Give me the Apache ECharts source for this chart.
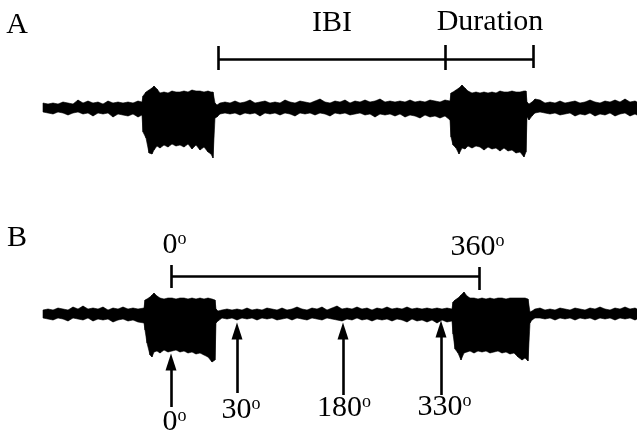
<!DOCTYPE html>
<html>
<head>
<meta charset="utf-8">
<script src="https://cdn.jsdelivr.net/npm/echarts@6/dist/echarts.min.js"></script>
<style>
  html, body { margin: 0; padding: 0; background: #fff; }
  #chart { width: 637px; height: 436px; }
</style>
</head>
<body>
<div id="chart"></div>
<script>
// recording envelopes: [time (s), upper, lower] in arbitrary units
const traceA_base1 = [
  [4.3, 0.5, -0.4], [4.8, 0.4, -0.5], [5.3, 0.5, -0.6], [5.8, 0.4, -0.4], [6.3, 0.6, -0.5],
  [6.8, 0.5, -0.7], [7.3, 0.4, -0.5], [7.8, 0.8, -0.4], [8.3, 0.5, -0.6], [8.8, 0.7, -0.5],
  [9.3, 0.5, -0.8], [9.8, 0.6, -0.5], [10.3, 0.4, -0.6], [10.8, 0.7, -0.5], [11.3, 0.5, -0.9],
  [11.8, 0.6, -0.6], [12.3, 0.5, -0.7], [12.8, 0.6, -0.8], [13.3, 0.5, -0.6], [13.8, 0.7, -0.9],
  [14.2, 0.6, -0.7]
];
const traceA_burst1 = [
  [14.3, 1.2, -2.4], [14.6, 1.6, -3.0], [14.9, 1.8, -4.5], [15.2, 2.0, -4.6], [15.4, 2.2, -4.2],
  [15.7, 1.9, -3.8], [16.0, 1.5, -4.0], [16.4, 1.6, -3.7], [16.8, 1.5, -3.9], [17.2, 1.7, -3.6],
  [17.6, 1.6, -3.8], [18.0, 1.6, -3.7], [18.4, 1.7, -3.9], [18.8, 1.6, -3.6], [19.2, 1.8, -4.1],
  [19.6, 1.7, -3.7], [20.0, 1.7, -4.2], [20.4, 1.6, -3.9], [20.8, 1.7, -4.4], [21.1, 1.6, -4.6],
  [21.3, 1.6, -5.0]
];
const traceA_base2 = [
  [21.5, 0.5, -1.0], [21.7, 0.3, -0.9], [22.0, 0.5, -0.6], [22.5, 0.6, -0.5], [23.0, 0.5, -0.6],
  [23.5, 0.7, -0.5], [24.0, 0.5, -0.7], [24.5, 0.6, -0.5], [25.0, 0.8, -0.6], [25.5, 0.5, -0.5],
  [26.0, 0.6, -0.8], [26.5, 0.7, -0.5], [27.0, 0.5, -0.6], [27.5, 0.6, -0.5], [28.0, 0.5, -0.7],
  [28.5, 0.8, -0.5], [29.0, 0.6, -0.6], [29.5, 0.5, -0.8], [30.0, 0.7, -0.5], [30.5, 0.6, -0.6],
  [31.0, 0.5, -0.5], [31.5, 0.7, -0.7], [32.0, 0.9, -0.5], [32.5, 0.6, -0.6], [33.0, 0.5, -0.8],
  [33.5, 0.7, -0.5], [34.0, 0.6, -0.6], [34.5, 0.8, -0.5], [35.0, 0.5, -0.7], [35.5, 0.7, -0.6],
  [36.0, 0.6, -0.5], [36.5, 0.8, -0.7], [37.0, 0.6, -0.6], [37.5, 0.7, -0.9], [38.0, 0.9, -0.6],
  [38.5, 0.6, -0.7], [39.0, 0.7, -0.6], [39.5, 0.6, -0.8], [40.0, 0.7, -0.6], [40.5, 0.6, -0.9],
  [41.0, 0.8, -0.7], [41.5, 0.6, -0.8], [42.0, 0.7, -1.0], [42.5, 0.6, -0.7], [43.0, 0.8, -0.9],
  [43.5, 0.7, -0.8], [44.0, 0.6, -1.0], [44.5, 0.8, -0.8], [45.0, 0.7, -1.2]
];
const traceA_burst2 = [
  [45.1, 1.5, -2.9], [45.3, 1.6, -3.7], [45.6, 1.8, -4.0], [45.9, 2.0, -4.6], [46.2, 2.3, -4.0],
  [46.5, 2.0, -4.1], [46.8, 1.7, -3.8], [47.2, 1.5, -4.0], [47.6, 1.6, -3.8], [48.0, 1.5, -3.9],
  [48.4, 1.6, -4.2], [48.8, 1.5, -3.9], [49.2, 1.6, -4.1], [49.6, 1.5, -4.0], [50.0, 1.7, -4.3],
  [50.4, 1.6, -4.0], [50.8, 1.6, -4.3], [51.2, 1.7, -4.2], [51.6, 1.6, -4.5], [52.0, 1.6, -4.4],
  [52.4, 1.7, -4.9], [52.6, 1.7, -4.4]
];
const traceA_base3 = [
  [52.7, 0.6, -0.9], [52.9, 0.4, -1.2], [53.2, 0.6, -0.8], [53.5, 0.9, -0.5], [54.0, 0.8, -0.4],
  [54.5, 0.5, -0.5], [55.0, 0.6, -0.6], [55.5, 0.5, -0.5], [56.0, 0.7, -0.7], [56.5, 0.5, -0.6],
  [57.0, 0.6, -0.5], [57.5, 0.7, -0.8], [58.0, 0.5, -0.6], [58.5, 0.6, -0.7], [59.0, 0.8, -0.5],
  [59.5, 0.6, -0.8], [60.0, 0.5, -0.6], [60.5, 0.7, -0.7], [61.0, 0.6, -0.5], [61.5, 0.8, -0.8],
  [62.0, 0.6, -0.6], [62.5, 0.9, -0.5], [63.0, 0.6, -0.8], [63.5, 0.7, -0.6], [63.7, 0.6, -0.7]
];

const traceB_base1 = [
  [4.3, 0.4, -0.4], [4.8, 0.5, -0.5], [5.3, 0.4, -0.6], [5.8, 0.6, -0.4], [6.3, 0.5, -0.5],
  [6.8, 0.4, -0.7], [7.3, 0.7, -0.4], [7.8, 0.5, -0.5], [8.3, 0.8, -0.6], [8.8, 0.5, -0.4],
  [9.3, 0.6, -0.7], [9.8, 0.5, -0.5], [10.3, 0.7, -0.6], [10.8, 0.4, -0.5], [11.3, 0.6, -0.8],
  [11.8, 0.5, -0.6], [12.3, 0.7, -0.5], [12.8, 0.5, -0.7], [13.3, 0.6, -0.6], [13.8, 0.5, -0.8],
  [14.4, 0.6, -0.9]
];
const traceB_burst1 = [
  [14.5, 1.4, -1.6], [14.7, 1.5, -2.9], [15.0, 1.7, -4.1], [15.2, 1.9, -4.3], [15.4, 2.1, -3.8],
  [15.7, 1.8, -3.7], [16.0, 1.6, -3.9], [16.4, 1.5, -3.6], [16.8, 1.6, -3.8], [17.2, 1.6, -3.7],
  [17.6, 1.5, -3.6], [18.0, 1.6, -3.8], [18.4, 1.6, -3.7], [18.8, 1.5, -3.9], [19.2, 1.6, -3.8],
  [19.6, 1.5, -4.0], [20.0, 1.6, -3.9], [20.4, 1.5, -4.1], [20.8, 1.6, -4.3], [21.2, 1.5, -4.8],
  [21.5, 1.4, -4.6]
];
const traceB_base2 = [
  [21.6, 0.5, -0.9], [21.8, 0.3, -0.7], [22.2, 0.4, -0.4], [22.7, 0.5, -0.5], [23.2, 0.4, -0.4],
  [23.7, 0.5, -0.6], [24.2, 0.4, -0.4], [24.7, 0.6, -0.5], [25.2, 0.4, -0.4], [25.7, 0.5, -0.6],
  [26.2, 0.4, -0.4], [26.7, 0.6, -0.5], [27.2, 0.5, -0.4], [27.7, 0.4, -0.6], [28.2, 0.6, -0.5],
  [28.7, 0.4, -0.4], [29.2, 0.5, -0.6], [29.7, 0.7, -0.4], [30.2, 0.5, -0.5], [30.7, 0.4, -0.6],
  [31.2, 0.6, -0.4], [31.7, 0.5, -0.5], [32.2, 0.7, -0.6], [32.7, 0.4, -0.4], [33.2, 0.6, -0.5],
  [33.7, 0.8, -0.6], [34.2, 0.5, -0.7], [34.7, 0.6, -0.5], [35.2, 0.5, -0.6], [35.7, 0.7, -0.4],
  [36.2, 0.5, -0.6], [36.7, 0.6, -0.5], [37.2, 0.4, -0.7], [37.7, 0.6, -0.5], [38.2, 0.5, -0.6],
  [38.7, 0.7, -0.5], [39.2, 0.5, -0.7], [39.7, 0.6, -0.5], [40.2, 0.5, -0.6], [40.7, 0.7, -0.8],
  [41.2, 0.5, -0.5], [41.7, 0.6, -0.7], [42.2, 0.5, -0.6], [42.7, 0.6, -0.8], [43.2, 0.5, -0.6],
  [43.7, 0.6, -0.9], [44.2, 0.5, -0.6], [44.7, 0.6, -0.8], [45.2, 0.5, -0.7]
];
const traceB_burst2 = [
  [45.3, 1.2, -2.0], [45.5, 1.4, -3.5], [45.8, 1.6, -3.9], [46.1, 1.9, -4.6], [46.4, 2.2, -3.9],
  [46.7, 1.8, -3.8], [47.0, 1.6, -3.7], [47.4, 1.6, -3.9], [47.8, 1.5, -3.7], [48.2, 1.6, -3.8],
  [48.6, 1.5, -3.7], [49.0, 1.6, -3.9], [49.4, 1.5, -3.8], [49.8, 1.6, -3.7], [50.2, 1.6, -3.9],
  [50.6, 1.5, -3.8], [51.0, 1.6, -4.0], [51.4, 1.6, -3.9], [51.8, 1.6, -4.3], [52.2, 1.6, -4.6],
  [52.5, 1.6, -4.4], [52.8, 1.5, -4.7]
];
const traceB_base3 = [
  [53.0, 0.2, -0.9], [53.2, 0.3, -0.6], [53.5, 0.5, -0.4], [54.0, 0.6, -0.4], [54.5, 0.4, -0.5],
  [55.0, 0.5, -0.4], [55.5, 0.4, -0.6], [56.0, 0.6, -0.4], [56.5, 0.5, -0.5], [57.0, 0.4, -0.4],
  [57.5, 0.6, -0.6], [58.0, 0.5, -0.4], [58.5, 0.4, -0.5], [59.0, 0.6, -0.4], [59.5, 0.5, -0.6],
  [60.0, 0.7, -0.4], [60.5, 0.5, -0.5], [61.0, 0.4, -0.4], [61.5, 0.6, -0.6], [62.0, 0.5, -0.4],
  [62.5, 0.7, -0.5], [63.0, 0.5, -0.4], [63.5, 0.6, -0.6], [63.7, 0.5, -0.5]
];

// annotation times (s)
const ibiTicks = [21.8, 44.5, 53.3];      // burst end, next burst start, next burst end
const phaseTicks = [17.1, 47.9];          // 0 deg, 360 deg
const arrowTimes = [17.1, 23.7, 34.3, 44.1];
const arrowLabels = ['0', '30', '180', '330'];

const traceA = [].concat(traceA_base1, traceA_burst1, traceA_base2, traceA_burst2, traceA_base3);
const traceB = [].concat(traceB_base1, traceB_burst1, traceB_base2, traceB_burst2, traceB_base3);

const FONT = '"Liberation Serif", "Times New Roman", serif';

function bandSeries(rows, idx) {
  return {
    type: 'custom',
    xAxisIndex: idx,
    yAxisIndex: idx,
    silent: true,
    data: rows,
    encode: { x: 0, y: [1, 2] },
    renderItem: function (params, api) {
      const cur = rows[params.dataIndex];
      const next = rows[params.dataIndex + 1];
      if (!next) return null;
      return {
        type: 'polygon',
        shape: {
          points: [
            api.coord([cur[0], cur[1]]),
            api.coord([next[0], next[1]]),
            api.coord([next[0], next[2]]),
            api.coord([cur[0], cur[2]])
          ]
        },
        style: { fill: '#000', stroke: '#000', lineWidth: 0.6 }
      };
    }
  };
}

function seg(x1, y1, x2, y2) {
  return [{ coord: [x1, y1] }, { coord: [x2, y2] }];
}

function lineHost(idx, segs, withArrow) {
  return {
    type: 'line',
    xAxisIndex: idx,
    yAxisIndex: idx,
    data: [],
    silent: true,
    markLine: {
      silent: true,
      animation: false,
      symbol: withArrow ? ['none', 'triangle'] : 'none',
      symbolSize: [11, 17],
      label: { show: false },
      emphasis: { disabled: true },
      lineStyle: { color: '#000', width: 2.6, type: 'solid', opacity: 1 },
      itemStyle: { color: '#000' },
      data: segs
    }
  };
}

function textSeries(idx, items) {
  return {
    type: 'scatter',
    xAxisIndex: idx,
    yAxisIndex: idx,
    symbolSize: 0,
    silent: true,
    clip: false,
    itemStyle: { color: '#000', opacity: 1 },
    data: items.map(d => ({ value: [d[0], d[1]], name: d[2], deg: d[3] })),
    label: {
      show: true,
      position: 'inside',
      color: '#000',
      opacity: 1,
      textBorderWidth: 0,
      fontFamily: FONT,
      fontSize: 30,
      lineHeight: 30,
      formatter: p => p.name + (p.data.deg ? '{s|o}' : ''),
      rich: {
        s: { fontFamily: FONT, fontSize: 18, lineHeight: 14, verticalAlign: 'top', color: '#000' }
      }
    }
  };
}

const bracketA = [
  seg(ibiTicks[0], 4.9, ibiTicks[2], 4.9),
  seg(ibiTicks[0], 6.2, ibiTicks[0], 3.8),
  seg(ibiTicks[1], 6.3, ibiTicks[1], 3.8),
  seg(ibiTicks[2], 6.3, ibiTicks[2], 4.0)
];
const bracketB = [
  seg(phaseTicks[0], 3.8, phaseTicks[1], 3.8),
  seg(phaseTicks[0], 4.9, phaseTicks[0], 2.6),
  seg(phaseTicks[1], 4.7, phaseTicks[1], 2.4)
];
const arrowTips = [-4.8, -1.7, -1.7, -1.5];
const arrowTails = [-9.3, -7.9, -8.1, -8.1];
const arrows = arrowTimes.map((t, i) => seg(t, arrowTails[i], t, arrowTips[i]));

const labelX = [17.45, 24.1, 34.4, 44.45];
const labelY = [-10.85, -9.6, -9.4, -9.3];

const axisOff = { show: false, splitLine: { show: false } };

const option = {
  animation: false,
  backgroundColor: '#fff',
  grid: [
    { left: 0, right: 0, top: 0, height: 216 },
    { left: 0, right: 0, top: 206, height: 230 }
  ],
  xAxis: [
    Object.assign({ type: 'value', gridIndex: 0, min: 0, max: 63.7 }, axisOff),
    Object.assign({ type: 'value', gridIndex: 1, min: 0, max: 63.7 }, axisOff)
  ],
  yAxis: [
    Object.assign({ type: 'value', gridIndex: 0, min: -10.8, max: 10.8 }, axisOff),
    Object.assign({ type: 'value', gridIndex: 1, min: -12.2, max: 10.8 }, axisOff)
  ],
  series: [
    bandSeries(traceA, 0),
    bandSeries(traceB, 1),
    lineHost(0, bracketA, false),
    lineHost(1, bracketB, false),
    lineHost(1, arrows, true),
    textSeries(0, [
      [1.7, 8.3, 'A', false],
      [33.2, 8.5, 'IBI', false],
      [49.0, 8.6, 'Duration', false]
    ]),
    textSeries(1, [
      [1.7, 7.6, 'B', false],
      [17.45, 6.9, '0', true],
      [47.75, 6.7, '360', true]
    ].concat(arrowLabels.map((s, i) => [labelX[i], labelY[i], s, true])))
  ]
};

const chart = echarts.init(document.getElementById('chart'));
chart.setOption(option);
</script>
</body>
</html>
